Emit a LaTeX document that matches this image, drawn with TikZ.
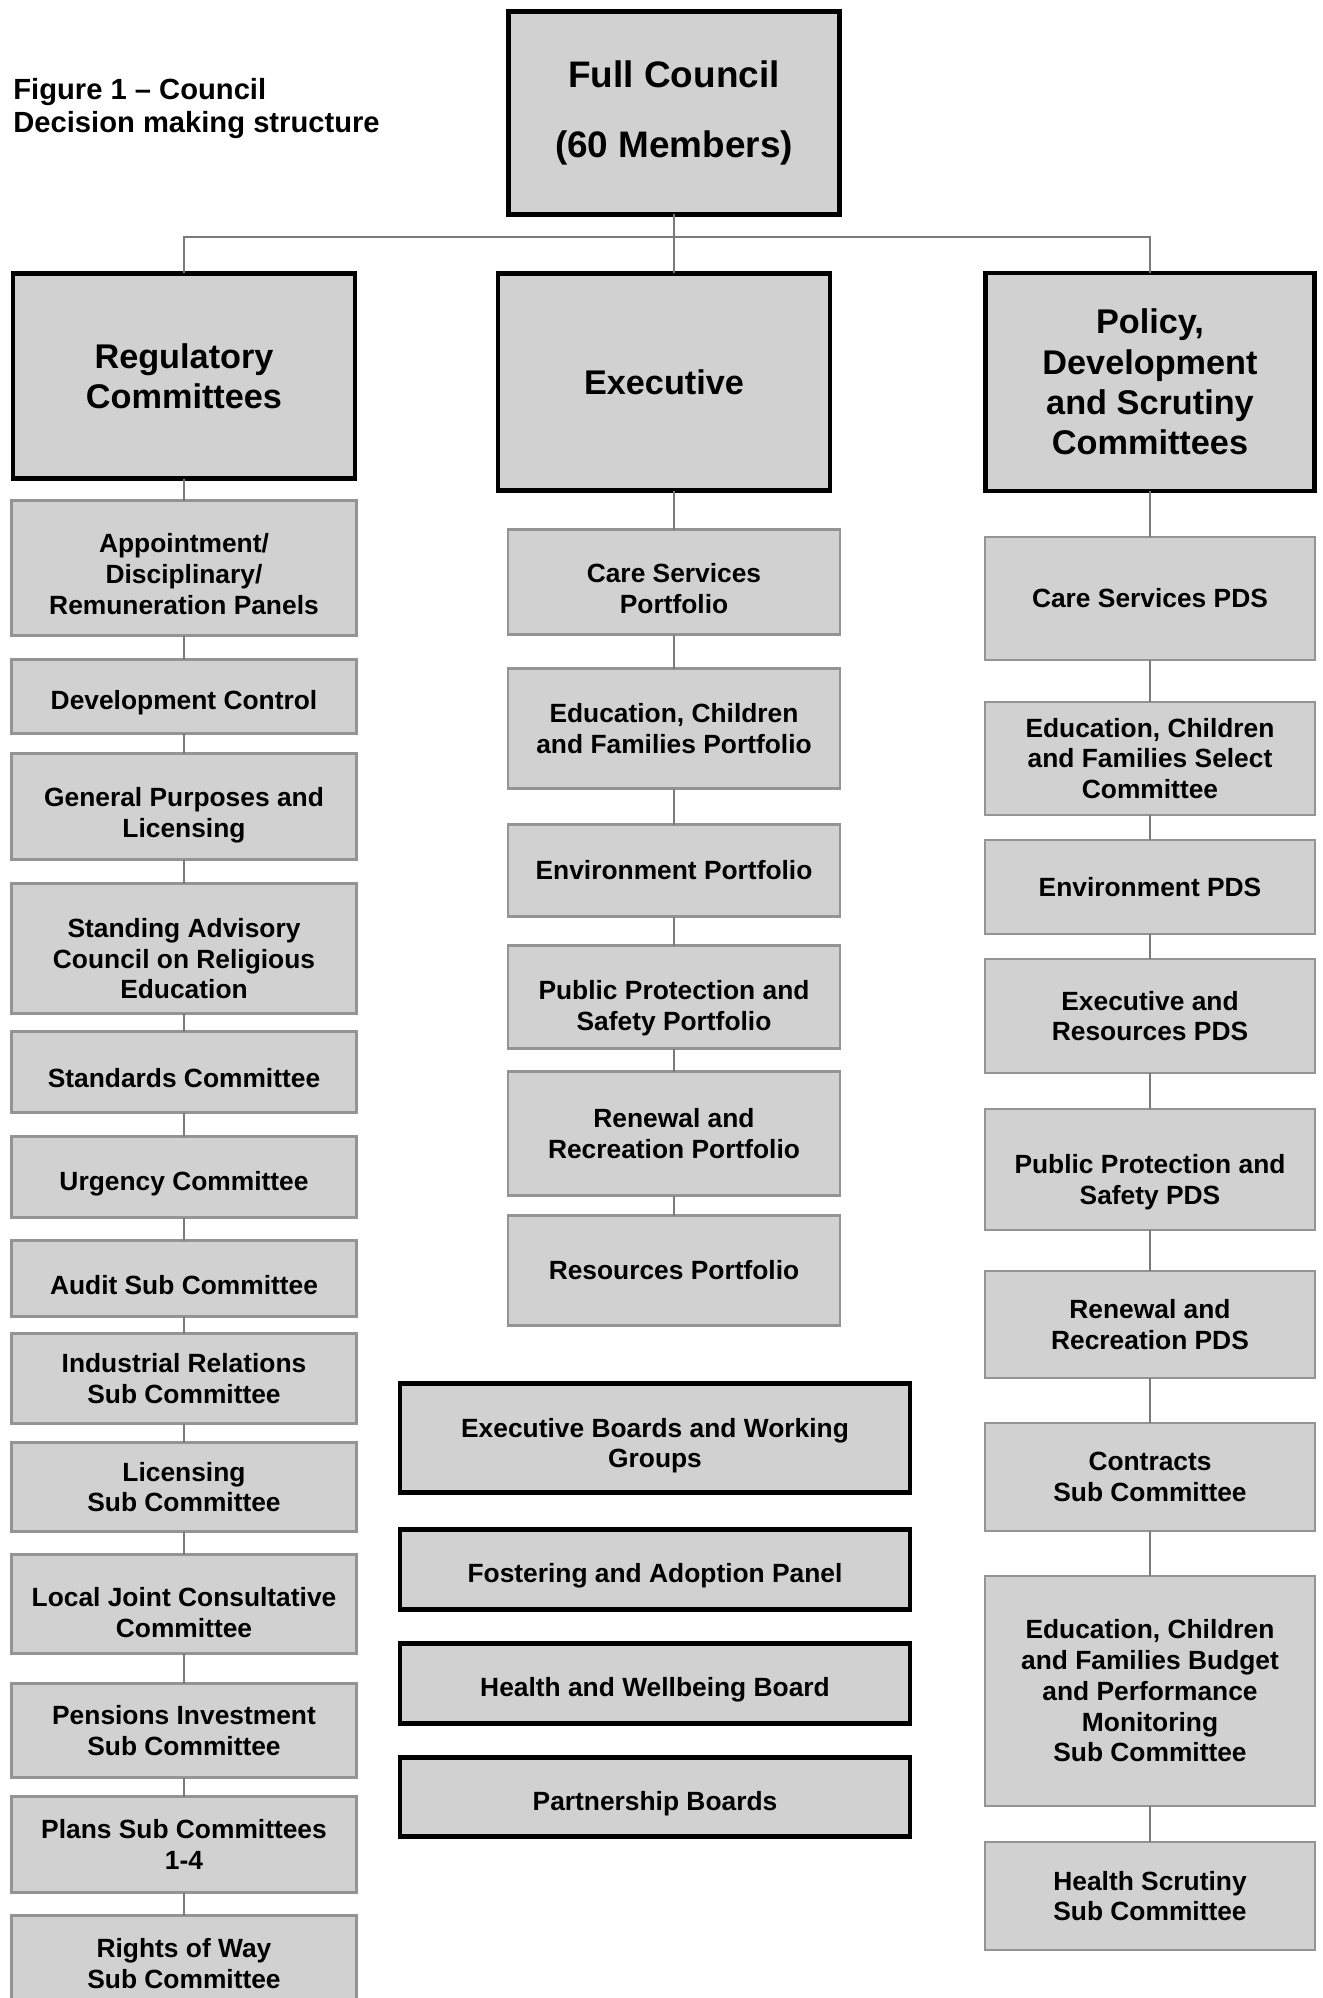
\documentclass[tikz,border=0pt]{standalone}
\usepackage{fontspec}
\setmainfont{Liberation Sans}
\usetikzlibrary{positioning}

\definecolor{boxgray}{gray}{0.82}
\definecolor{edgegray}{gray}{0.58}
\definecolor{linkgray}{gray}{0.48}

% pushes the text of a box down a little
\newcommand{\textdrop}[1]{\rule{0pt}{#1}}

\tikzset{
  head/.style={draw=black, line width=2.6pt, fill=boxgray, align=center, inner sep=2pt, outer sep=0pt,
    font=\fontsize{19.5}{23}\selectfont\bfseries},
  sub/.style={draw=edgegray, line width=1.6pt, fill=boxgray, align=center, inner sep=2pt, outer sep=0pt,
    font=\fontsize{15}{17.5}\selectfont\bfseries},
  board/.style={sub, draw=black, line width=2.6pt, minimum width=10.2cm, execute at begin node={\textdrop{18pt}}},
  leftcol/.style={sub, minimum width=6.9cm, execute at begin node={\textdrop{18pt}}},
  midcol/.style={sub, minimum width=6.64cm},
  rightcol/.style={sub, minimum width=6.6cm},
  link/.style={draw=linkgray, line width=0.8pt}
}

\begin{document}
\begin{tikzpicture}
\useasboundingbox (0,0) rectangle (26.44,-39.96);

\node[anchor=north west, align=left, inner sep=0pt, font=\fontsize{16.6}{18.8}\selectfont\bfseries](title) at (0.26,-1.56){Figure 1 -- Council\\Decision making structure};

% top level
\node[head, minimum width=6.62cm, minimum height=4.06cm, font=\fontsize{21}{40}\selectfont\bfseries](council) at (13.48,-2.26){Full Council\\(60 Members)};
\node[head, minimum width=6.84cm, minimum height=4.1cm](reg) at (3.68,-7.52){Regulatory\\Committees};
\node[head, minimum width=6.64cm, minimum height=4.34cm](exec) at (13.28,-7.64){Executive};
\node[head, minimum width=6.58cm, minimum height=4.36cm](pds) at (23.0,-7.64){Policy,\\Development\\and Scrutiny\\Committees};
\coordinate (bus) at (13.48,-4.74);

% regulatory column
\node[leftcol, minimum height=2.7cm, below=0.44cm of reg](appoint){\textdrop{18pt}Appointment/\\Disciplinary/\\Remuneration Panels};
\node[leftcol, minimum height=1.48cm, below=0.48cm of appoint](devcontrol){Development Control};
\node[leftcol, minimum height=2.12cm, below=0.4cm of devcontrol](genpurp){\textdrop{21pt}General Purposes and\\Licensing};
\node[leftcol, minimum height=2.6cm, below=0.48cm of genpurp](sacre){\textdrop{22.5pt}Standing Advisory\\Council on Religious\\Education};
\node[leftcol, minimum height=1.62cm, below=0.36cm of sacre](standards){Standards Committee};
\node[leftcol, minimum height=1.62cm, below=0.48cm of standards](urgency){Urgency Committee};
\node[leftcol, minimum height=1.52cm, below=0.46cm of urgency](audit){Audit Sub Committee};
\node[leftcol, minimum height=1.8cm, below=0.34cm of audit](indrel){Industrial Relations\\Sub Committee};
\node[leftcol, minimum height=1.78cm, below=0.38cm of indrel](licsub){Licensing\\Sub Committee};
\node[leftcol, minimum height=1.98cm, below=0.46cm of licsub](localjoint){\textdrop{21pt}Local Joint Consultative\\Committee};
\node[leftcol, minimum height=1.88cm, below=0.6cm of localjoint](pensions){Pensions Investment\\Sub Committee};
\node[leftcol, minimum height=1.92cm, below=0.38cm of pensions](plans){Plans Sub Committees\\1-4};
\node[leftcol, minimum height=1.92cm, below=0.46cm of plans](rightsway){Rights of Way\\Sub Committee};

% executive column
\node[midcol, minimum height=2.1cm, below=0.78cm of exec, xshift=0.2cm](careport){\textdrop{18pt}Care Services\\Portfolio};
\node[midcol, minimum height=2.4cm, below=0.68cm of careport](eduport){Education, Children\\and Families Portfolio};
\node[midcol, minimum height=1.84cm, below=0.72cm of eduport](envport){Environment Portfolio};
\node[midcol, minimum height=2.06cm, below=0.58cm of envport](pubport){\textdrop{24pt}Public Protection and\\Safety Portfolio};
\node[midcol, minimum height=2.48cm, below=0.46cm of pubport](renport){Renewal and\\Recreation Portfolio};
\node[midcol, minimum height=2.2cm, below=0.4cm of renport](resport){Resources Portfolio};

\node[board, minimum height=2.18cm](execboards) at (13.1,-28.76){\textdrop{19.6pt}Executive Boards and Working\\Groups};
\node[board, minimum height=1.6cm, below=0.74cm of execboards](fostering){Fostering and Adoption Panel};
\node[board, minimum height=1.6cm, below=0.68cm of fostering](wellbeing){Health and Wellbeing Board};
\node[board, minimum height=1.58cm, below=0.68cm of wellbeing](partner){Partnership Boards};

% scrutiny column
\node[rightcol, minimum height=2.46cm, below=0.92cm of pds](carepds){Care Services PDS};
\node[rightcol, minimum height=2.26cm, below=0.84cm of carepds](eduselect){Education, Children\\and Families Select\\Committee};
\node[rightcol, minimum height=1.88cm, below=0.5cm of eduselect](envpds){Environment PDS};
\node[rightcol, minimum height=2.28cm, below=0.5cm of envpds](respds){Executive and\\Resources PDS};
\node[rightcol, minimum height=2.42cm, below=0.72cm of respds](pubpds){\textdrop{25pt}Public Protection and\\Safety PDS};
\node[rightcol, minimum height=2.14cm, below=0.82cm of pubpds](renpds){Renewal and\\Recreation PDS};
\node[rightcol, minimum height=2.16cm, below=0.9cm of renpds](contracts){Contracts\\Sub Committee};
\node[rightcol, minimum height=4.6cm, below=0.9cm of contracts](edubudget){Education, Children\\and Families Budget\\and Performance\\Monitoring\\Sub Committee};
\node[rightcol, minimum height=2.16cm, below=0.72cm of edubudget](healthscr){Health Scrutiny\\Sub Committee};

% connectors
\path[link] (council) -- (council |- exec.north);
\path[link] (reg.north) |- (bus) -| (pds.north);
\path[link] (reg) -- (appoint) -- (devcontrol) -- (genpurp) -- (sacre) -- (standards) -- (urgency) -- (audit) -- (indrel) -- (licsub) -- (localjoint) -- (pensions) -- (plans) -- (rightsway);
\path[link] (careport.north |- exec.south) -- (careport) -- (eduport) -- (envport) -- (pubport) -- (renport) -- (resport);
\path[link] (pds) -- (carepds) -- (eduselect) -- (envpds) -- (respds) -- (pubpds) -- (renpds) -- (contracts) -- (edubudget) -- (healthscr);
\end{tikzpicture}
\end{document}
